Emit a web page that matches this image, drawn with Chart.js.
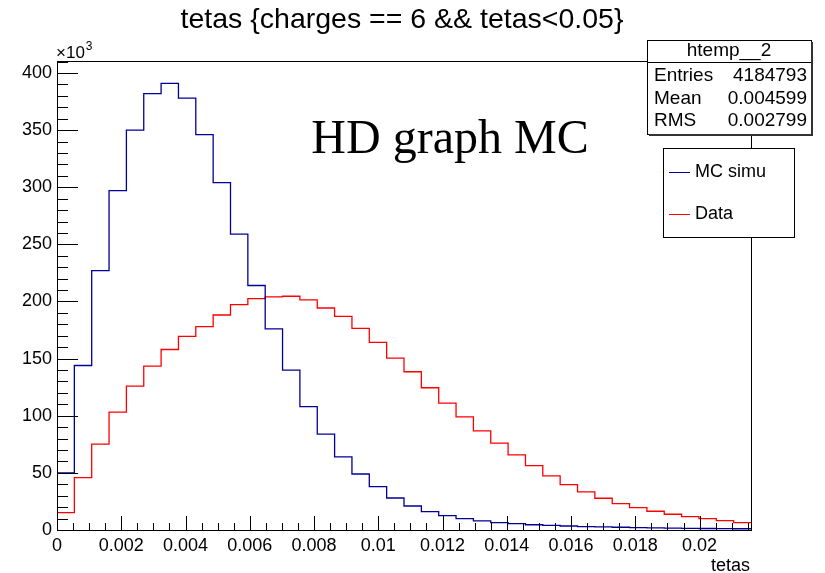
<!DOCTYPE html>
<html>
<head>
<meta charset="utf-8">
<script src="https://cdn.jsdelivr.net/npm/chart.js@4/dist/chart.umd.min.js"></script>
<style>
html,body{margin:0;padding:0;background:#fff;}
canvas{display:block;}
</style>
</head>
<body>
<canvas id="c" width="825" height="573"></canvas>
<script>
// ---- data (counts in units of 10^3) ----
const xMin = 0;
const xMax = 0.0216;
const mcValues = [50,144,227,297,350,382,391,378,346,304,259,214,176,140,108,84,64,49,38,28,21,16,12.5,10,8,6.4,5.5,4.6,4.0,3.5,3.0,2.7,2.4,2.1,1.9,1.7,1.5,1.3,1.2,1.1];
const dataValues = [15.2,45.9,75.1,103.2,126,143.5,158,169.5,178,188.2,197.2,202.6,204.1,204.6,201.5,194.3,187,176.5,164.2,150.5,138.5,124.5,111,99,86.8,76,65.7,56.3,47.3,39.7,33.3,27.8,23,19.5,16.4,13.8,11.7,9.9,8.2,6.4];
const xTickValues = [0,0.002,0.004,0.006,0.008,0.01,0.012,0.014,0.016,0.018,0.02];
const xTickLabels = ["0","0.002","0.004","0.006","0.008","0.01","0.012","0.014","0.016","0.018","0.02"];
const yTickValues = [0,50,100,150,200,250,300,350,400];
const yMax = 410.5;
const seriesNames = ["MC simu","Data"];
const titleText = "tetas {charges == 6 && tetas<0.05}";
const statsName = "htemp__2";
const statsRows = [["Entries","4184793"],["Mean","0.004599"],["RMS","0.002799"]];
const xTitle = "tetas";
const annotation = "HD graph MC";

function histPoints(vals){
  const n = vals.length, bw = (xMax - xMin)/n;
  const pts = vals.map((v,i)=>({x: xMin + i*bw, y: v}));
  pts.push({x: xMax, y: vals[n-1]});
  return pts;
}

const SANS = "'Liberation Sans', Arial, sans-serif";
const SERIF = "'Liberation Serif', 'Times New Roman', serif";

const decor = {
  id: 'decor',
  afterDatasetsDraw(chart){
    const ctx = chart.ctx, a = chart.chartArea;
    const xs = chart.scales.x, ys = chart.scales.y;
    ctx.save();
    // frame
    ctx.strokeStyle = '#000'; ctx.lineWidth = 1;
    ctx.strokeRect(Math.round(a.left)+0.5, Math.round(a.top)+0.5, Math.round(a.right-a.left), Math.round(a.bottom-a.top));
    // y ticks
    ctx.beginPath();
    for (let v = 0; v <= yMax; v += 10){
      const y = Math.round(ys.getPixelForValue(v))+0.5;
      const len = (v % 50 === 0) ? 21 : 11;
      ctx.moveTo(a.left, y); ctx.lineTo(a.left+len, y);
    }
    // x ticks
    for (let k = 0; k*0.0005 <= xMax+1e-9; k++){
      const v = k*0.0005;
      const x = Math.round(xs.getPixelForValue(v))+0.5;
      const len = (k % 4 === 0) ? 14 : 7;
      ctx.moveTo(x, a.bottom); ctx.lineTo(x, a.bottom-len);
    }
    ctx.stroke();

    // title
    ctx.fillStyle = '#000';
    ctx.font = '28.5px ' + SANS;
    ctx.textAlign = 'center'; ctx.textBaseline = 'alphabetic';
    ctx.fillText(titleText, 402, 28);

    // x10^3
    ctx.textAlign = 'left';
    ctx.font = '17px ' + SANS;
    ctx.fillText('\u00d710', 56, 58);
    const w = ctx.measureText('\u00d710').width;
    ctx.font = '12px ' + SANS;
    ctx.fillText('3', 56 + w + 1, 50);

    // x axis title
    ctx.font = '18px ' + SANS;
    ctx.textAlign = 'right';
    ctx.fillText(xTitle, 750, 571);

    // annotation
    ctx.font = '48px ' + SERIF;
    ctx.textAlign = 'center';
    ctx.fillText(annotation, 450, 153);

    // stats box
    const sx = 647, sy = 40, sw = 164, sh = 94;
    ctx.fillStyle = '#fff';
    ctx.fillRect(sx, sy, sw, sh);
    ctx.strokeStyle = '#000'; ctx.lineWidth = 1;
    ctx.strokeRect(sx+0.5, sy+0.5, sw, sh);
    ctx.fillStyle = '#333';
    ctx.fillRect(sx+sw, sy+2, 2, sh);
    ctx.fillRect(sx+2, sy+sh, sw, 2);
    ctx.beginPath(); ctx.moveTo(sx, 62.5); ctx.lineTo(sx+sw, 62.5); ctx.stroke();
    ctx.fillStyle = '#000';
    ctx.font = '19px ' + SANS;
    ctx.textBaseline = 'middle';
    ctx.textAlign = 'center';
    ctx.fillText(statsName, sx + sw/2, 51);
    const rowY = [76, 98.5, 121];
    statsRows.forEach((r,i)=>{
      ctx.textAlign = 'left'; ctx.fillText(r[0], 654, rowY[i]);
      ctx.textAlign = 'right'; ctx.fillText(r[1], 807, rowY[i]);
    });

    // legend box
    const lx = 663, ly = 148, lw = 131, lh = 89;
    ctx.fillStyle = '#fff';
    ctx.fillRect(lx, ly, lw, lh);
    ctx.strokeStyle = '#000';
    ctx.strokeRect(lx+0.5, ly+0.5, lw, lh);
    const colors = chart.data.datasets.map(d=>d.borderColor);
    const legY = [172, 214];
    ctx.font = '18px ' + SANS;
    ctx.textAlign = 'left';
    seriesNames.forEach((nm,i)=>{
      ctx.strokeStyle = colors[i];
      ctx.beginPath(); ctx.moveTo(669, legY[i]+0.5); ctx.lineTo(690, legY[i]+0.5); ctx.stroke();
      ctx.fillStyle = '#000';
      ctx.fillText(nm, 695, legY[i]);
    });
    ctx.restore();
  }
};

new Chart(document.getElementById('c'), {
  type: 'line',
  data: {
    datasets: [
      {label: seriesNames[0], data: histPoints(mcValues), borderColor: '#000099', borderWidth: 1.3, stepped: 'before', pointRadius: 0, fill: false, tension: 0},
      {label: seriesNames[1], data: histPoints(dataValues), borderColor: '#ff0000', borderWidth: 1.3, stepped: 'before', pointRadius: 0, fill: false, tension: 0}
    ]
  },
  options: {
    responsive: false,
    animation: false,
    devicePixelRatio: 1,
    layout: {padding: {left: 0, right: 74, top: 61, bottom: 0}},
    plugins: {legend: {display: false}, title: {display: false}, tooltip: {enabled: false}},
    scales: {
      x: {
        type: 'linear', min: xMin, max: xMax,
        grid: {display: false, drawTicks: false},
        border: {display: false},
        afterBuildTicks: s => { s.ticks = xTickValues.map(v=>({value: v})); },
        afterFit: s => { s.height = 43; },
        ticks: {
          padding: 5, maxRotation: 0, autoSkip: false, color: '#000',
          font: {family: SANS, size: 18},
          callback: (v) => { const i = xTickValues.findIndex(t=>Math.abs(t-v)<1e-9); return i>=0 ? xTickLabels[i] : ''; }
        }
      },
      y: {
        type: 'linear', min: 0, max: yMax,
        grid: {display: false, drawTicks: false},
        border: {display: false},
        afterBuildTicks: s => { s.ticks = yTickValues.map(v=>({value: v})); },
        afterFit: s => { s.width = 57; },
        ticks: {padding: 5, color: '#000', font: {family: SANS, size: 18}, callback: v => String(v)}
      }
    }
  },
  plugins: [decor]
});
</script>
</body>
</html>
